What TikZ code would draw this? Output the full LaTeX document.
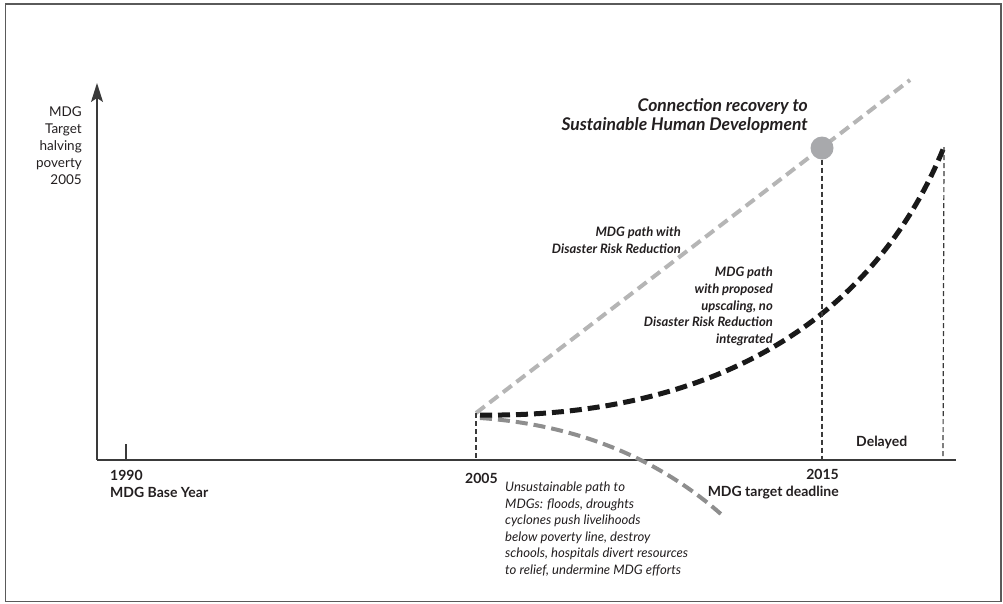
\documentclass[tikz,border=0pt]{standalone}
\usepackage{fontspec}
\setmainfont{Lato}
\usetikzlibrary{arrows.meta,positioning,calc}
\definecolor{axisgray}{HTML}{3A3A3A}
\definecolor{drrgray}{HTML}{B5B5B5}
\definecolor{riskgray}{HTML}{8E8E8E}
\definecolor{dotgray}{HTML}{A8A9AC}
\definecolor{framegray}{HTML}{5A5A5A}
\definecolor{textdark}{HTML}{231F20}

\begin{document}
\begin{tikzpicture}[x=1pt,y=-1pt,
    lbl/.style={inner sep=0pt,text=textdark,
      font=\fontsize{13}{16.6}\selectfont\bfseries\itshape},
    yearlbl/.style={inner sep=0pt,text=textdark,
      font=\fontsize{14}{17}\selectfont\bfseries},
    guide/.style={axisgray,line width=1.2pt,dash pattern=on 5pt off 3pt}]
  \useasboundingbox (0,0) rectangle (1003,603);
  \draw[framegray,line width=1.5pt] (5.5,4) rectangle (1001,601.5);

  % axes
  \coordinate (o) at (97,460);
  \coordinate (ytop) at (97,83);
  \coordinate (xend) at (956,460);
  \draw[axisgray,line width=1.4pt,-{Stealth[length=19pt,width=12pt,inset=4pt]}] (o) -- (ytop);
  \draw[axisgray,line width=1.4pt] (o) -- (xend);
  \coordinate (t90) at (126,460);
  \coordinate (t90up) at (126,444);
  \draw[axisgray,line width=1.2pt] (t90) -- (t90up);

  \node[inner sep=0pt,text=textdark,align=right,anchor=east,
        font=\fontsize{13.5}{17}\selectfont] (ylab) at (82,146)
        {MDG\\Target\\halving\\poverty\\2005};

  % paths
  \coordinate (d05) at (476,413);
  \coordinate (s05) at (480,415);
  \coordinate (r05) at (480,418);
  \coordinate (drrend) at (910,80);
  \coordinate (lateend) at (944,147);
  \coordinate (riskend) at (722,515);
  \coordinate (t05) at (476,460);
  \coordinate (t15) at (822,460);
  \coordinate (tdel) at (943,460);

  \draw[drrgray,line width=4pt,dash pattern=on 11pt off 6pt] (d05) -- (drrend);
  \node[circle,fill=dotgray,minimum size=23pt,inner sep=0pt] (goal) at (822,148) {};
  \draw[riskgray,line width=4pt,dash pattern=on 12pt off 6pt]
    (r05) .. controls (580,425) and (660,460) .. (riskend);
  \draw[black!90,line width=5pt,dash pattern=on 12pt off 6pt]
    (s05) .. controls (700,418) and (870,330) .. (lateend);

  \draw[guide] (d05) -- (t05);
  \draw[guide] (goal.south) -- (t15);
  \draw[guide] (lateend) -- (tdel);

  % labels
  \node[lbl,align=right,anchor=east,font=\fontsize{17.5}{19}\selectfont\bfseries\itshape]
    (goallab) at (808,115.5) {Connection recovery to\\Sustainable Human Development};
  \node[lbl,align=right,anchor=east] (drrlab) at (681,240)
    {MDG path with\\Disaster Risk Reduction};
  \node[lbl,align=right,anchor=east] (uplab) at (773,306.5)
    {MDG path\\with proposed\\upscaling, no\\Disaster Risk Reduction\\integrated};
  \node[inner sep=0pt,text=textdark,align=left,anchor=west,
        font=\fontsize{13.1}{16.5}\selectfont\itshape] (risklab) at (505,529)
    {Unsustainable path to\\MDGs: floods, droughts\\cyclones push livelihoods\\below poverty line, destroy\\schools, hospitals divert resources\\to relief, undermine MDG efforts};
  \node[yearlbl,align=left,anchor=west] (y90) at (110,483.5) {1990\\MDG Base Year};
  \node[yearlbl,anchor=west] (y05) at (465,478) {2005};
  \node[yearlbl,align=right,anchor=east] (y15) at (839,484.5) {2015\\MDG target deadline};
  \node[yearlbl,anchor=west] (dellab) at (856,442) {Delayed};
\end{tikzpicture}
\end{document}
